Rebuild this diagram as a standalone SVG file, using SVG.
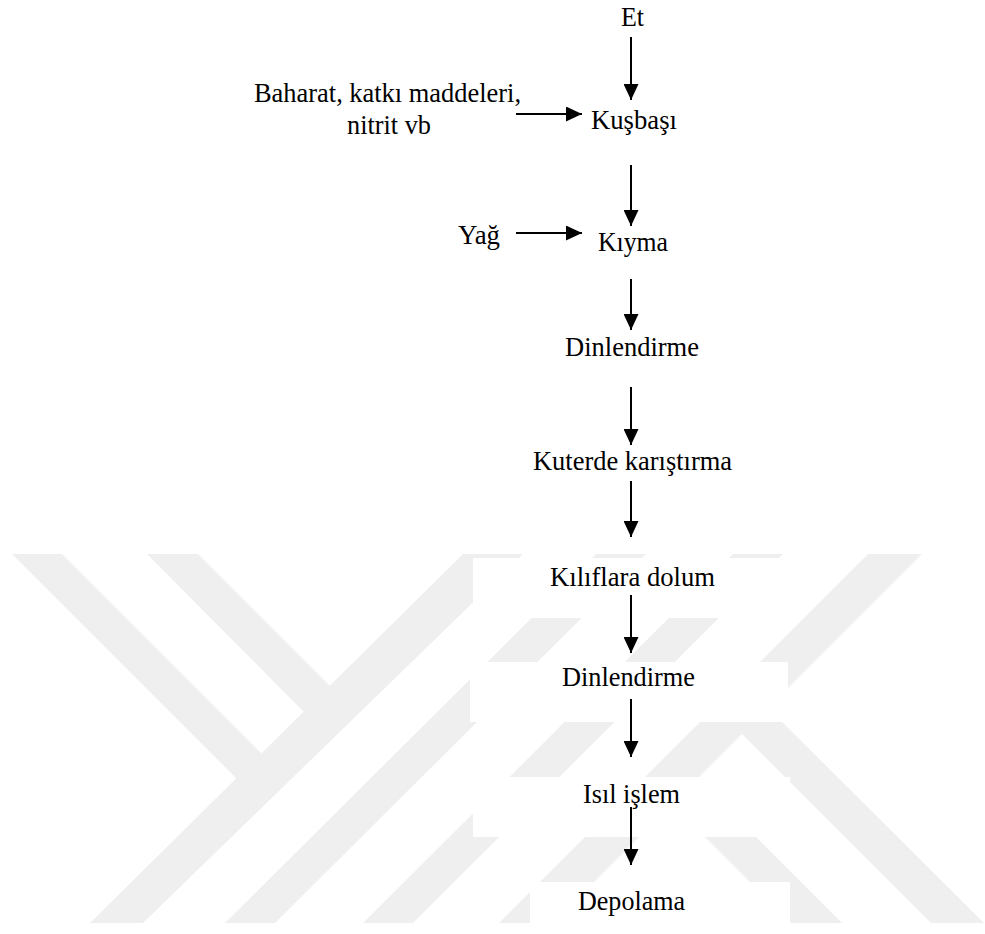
<svg xmlns="http://www.w3.org/2000/svg" width="985" height="934" viewBox="0 0 985 934">
  <style>
    .lbl { font-family: "Liberation Serif", "Times New Roman", serif; font-size: 26.5px; fill: #000; }
    .wm { fill: #efefef; }
    .box { fill: #ffffff; }
    .conn { stroke: #000; stroke-width: 2; fill: none; marker-end: url(#ah); }
  </style>
  <defs>
    <marker id="ah" markerUnits="userSpaceOnUse" markerWidth="16" markerHeight="15" refX="16" refY="7.5" orient="auto">
      <path d="M0,0 L16,7.5 L0,15 Z" fill="#000"/>
    </marker>
  </defs>
  <rect x="0" y="0" width="985" height="934" fill="#ffffff"/>

  <g id="watermark">
    <polygon class="wm" points="12,554 62,554 263,755 238,780"/>
    <polygon class="wm" points="147,554 198,554 331,687 305,713"/>
    <polygon class="wm" points="90,923 143,923 523,554 463,554"/>
    <polygon class="wm" points="225,923 275,923 646,554 596,554"/>
    <polygon class="wm" points="363,923 413,923 783,554 733,554"/>
    <polygon class="wm" points="499,923 553,923 922,554 868,554"/>
    <polygon class="wm" points="729,721 755,695 984,923 931,923"/>
    <polygon class="wm" points="659,791 685,766 842,923 791,923"/>
  </g>

  <g id="node-et"><text class="lbl" x="621" y="26" textLength="23" lengthAdjust="spacingAndGlyphs">Et</text></g>
  <g id="node-baharat">
    <text class="lbl" x="254" y="102" textLength="267" lengthAdjust="spacingAndGlyphs">Baharat, katkı maddeleri,</text>
    <text class="lbl" x="347" y="134" textLength="84" lengthAdjust="spacingAndGlyphs">nitrit vb</text>
  </g>
  <g id="node-kusbasi"><text class="lbl" x="591" y="129" textLength="86" lengthAdjust="spacingAndGlyphs">Kuşbaşı</text></g>
  <g id="node-yag"><text class="lbl" x="458" y="244" textLength="42" lengthAdjust="spacingAndGlyphs">Yağ</text></g>
  <g id="node-kiyma"><text class="lbl" x="598" y="251" textLength="70" lengthAdjust="spacingAndGlyphs">Kıyma</text></g>
  <g id="node-dinlendirme1"><text class="lbl" x="565" y="356" textLength="134" lengthAdjust="spacingAndGlyphs">Dinlendirme</text></g>
  <g id="node-kuterde"><text class="lbl" x="533" y="470" textLength="199" lengthAdjust="spacingAndGlyphs">Kuterde karıştırma</text></g>
  <g id="node-kiliflara">
    <rect class="box" x="473" y="558" width="317" height="60"/>
    <text class="lbl" x="550" y="586" textLength="165" lengthAdjust="spacingAndGlyphs">Kılıflara dolum</text>
  </g>
  <g id="node-dinlendirme2">
    <rect class="box" x="470" y="662" width="318" height="60"/>
    <text class="lbl" x="562" y="686" textLength="133" lengthAdjust="spacingAndGlyphs">Dinlendirme</text>
  </g>
  <g id="node-isil">
    <rect class="box" x="473" y="777" width="317" height="60"/>
    <text class="lbl" x="583" y="803" textLength="97" lengthAdjust="spacingAndGlyphs">Isıl işlem</text>
  </g>
  <g id="node-depolama">
    <rect class="box" x="530" y="882" width="260" height="52"/>
    <text class="lbl" x="578" y="910" textLength="107" lengthAdjust="spacingAndGlyphs">Depolama</text>
  </g>

  <g id="connectors">
    <line class="conn" x1="631" y1="37" x2="631" y2="100"/>
    <line class="conn" x1="516" y1="114" x2="582" y2="114"/>
    <line class="conn" x1="631" y1="165" x2="631" y2="226"/>
    <line class="conn" x1="516" y1="233" x2="582" y2="233"/>
    <line class="conn" x1="631" y1="279" x2="631" y2="330"/>
    <line class="conn" x1="631" y1="387" x2="631" y2="445"/>
    <line class="conn" x1="631" y1="481" x2="631" y2="537"/>
    <line class="conn" x1="631" y1="595" x2="631" y2="653"/>
    <line class="conn" x1="631" y1="699" x2="631" y2="757"/>
    <line class="conn" x1="631" y1="807" x2="631" y2="865"/>
  </g>
</svg>
